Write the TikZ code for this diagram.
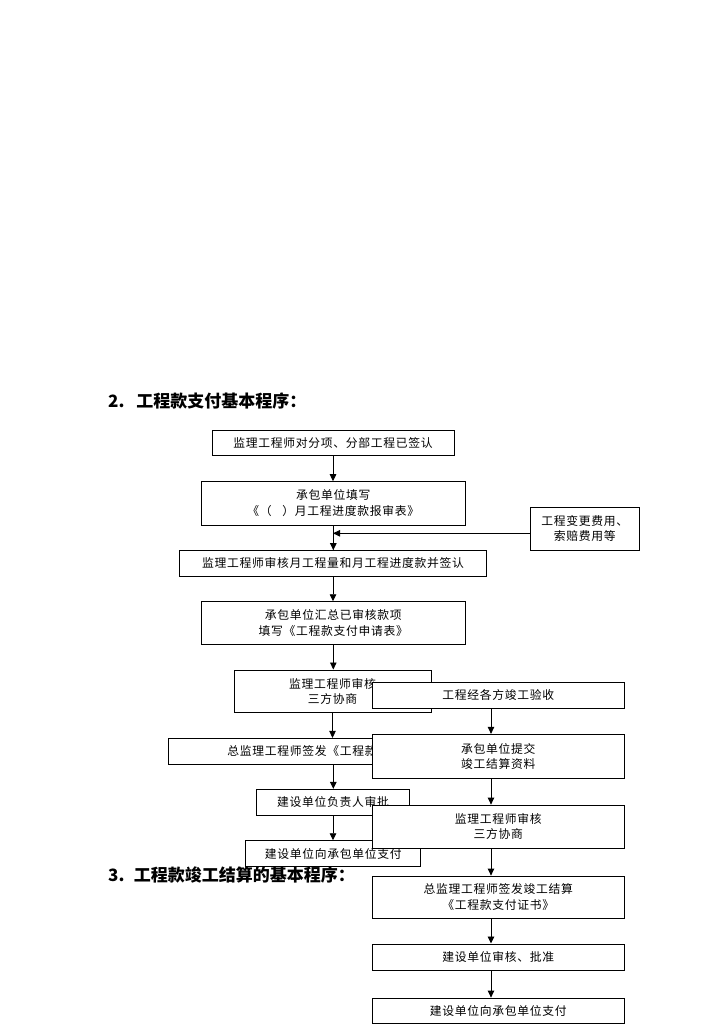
\documentclass[tikz,border=0pt]{standalone}
\usepackage{fontspec}
\usetikzlibrary{arrows.meta,calc}
\newfontfamily\cjk{Noto Sans CJK SC}[LetterSpace=6]
\newfontfamily\cjkt{Noto Sans CJK SC}
\tikzset{
  box/.style={draw=black, line width=0.9pt, fill=white, inner sep=0pt, align=center,
    font=\cjk\fontsize{11.8}{15.5}\selectfont},
  ttl/.style={anchor=west, inner sep=0pt, font=\cjkt\bfseries\fontsize{17}{20}\selectfont},
  arr/.style={line width=0.9pt, -{Triangle[length=7pt,width=6.5pt]}},
}
\begin{document}
\begin{tikzpicture}[x=1pt,y=-1pt]
\useasboundingbox[fill=white] (0,0) rectangle (724,1024);
% titles
\node[ttl] (t2) at (108,401) {2.\hspace{0.7em}工程款支付基本程序：};
% left column
\node[box, minimum width=242pt, minimum height=25pt] (b1) at (333,443.2) {监理工程师对分项、分部工程已签认};
\node[box, minimum width=263.3pt, minimum height=43.3pt] (b2) at (333.3,503.3) {承包单位填写\\《（\hspace{0.9em}）月工程进度款报审表》};
\node[box, minimum width=109.3pt, minimum height=42.7pt] (side) at (584.7,528.7) {工程变更费用、\\索赔费用等};
\node[box, minimum width=307.4pt, minimum height=25.3pt] (b3) at (333,563.3) {监理工程师审核月工程量和月工程进度款并签认};
\node[box, minimum width=263.3pt, minimum height=42.6pt] (b4) at (333.3,623) {承包单位汇总已审核款项\\填写《工程款支付申请表》};
\node[box, minimum width=197pt, minimum height=42.7pt] (b5) at (332.5,691.3) {监理工程师审核\\三方协商};
\node[box, minimum width=330pt, minimum height=25.7pt] (b7) at (333.3,751.2) {总监理工程师签发《工程款支付证书》};
\node[box, minimum width=152.6pt, minimum height=25.7pt] (b9) at (333,802.2) {建设单位负责人审批};
\node[box, minimum width=175pt, minimum height=26pt] (b11) at (333.2,853.7) {建设单位向承包单位支付};
% left arrows
\coordinate (j) at (333,533.3);
\draw[arr] (b1.south) -- (b1.south |- b2.north);
\draw[arr] (b2.south) -- (b2.south |- b3.north);
\draw[arr] (side.west |- j) -- (j);
\draw[arr] (b3.south) -- (b3.south |- b4.north);
\draw[arr] (b4.south) -- (b4.south |- b5.north);
\draw[arr] (b5.south) -- (b5.south |- b7.north);
\draw[arr] (b7.south) -- (b7.south |- b9.north);
\draw[arr] (b9.south) -- (b9.south |- b11.north);
% title 3
\node[ttl] (t3) at (108,875) {3.\hspace{0.55em}工程款竣工结算的基本程序：};
% right column
\node[box, minimum width=252pt, minimum height=26pt] (b6) at (498.3,695.3) {工程经各方竣工验收};
\node[box, minimum width=252pt, minimum height=44pt] (b8) at (498.3,756.3) {承包单位提交\\竣工结算资料};
\node[box, minimum width=252pt, minimum height=43.3pt] (b10) at (498.3,826.7) {监理工程师审核\\三方协商};
\node[box, minimum width=252pt, minimum height=42.3pt] (b12) at (498.3,897.2) {总监理工程师签发竣工结算\\《工程款支付证书》};
\node[box, minimum width=252pt, minimum height=26.7pt] (b13) at (498.3,957.3) {建设单位审核、批准};
\node[box, minimum width=252pt, minimum height=25.5pt] (b14) at (498.3,1010.8) {建设单位向承包单位支付};
% right arrows
\coordinate (rc) at (491,0);
\draw[arr] (b6.south -| rc) -- (b8.north -| rc);
\draw[arr] (b8.south -| rc) -- (b10.north -| rc);
\draw[arr] (b10.south -| rc) -- (b12.north -| rc);
\draw[arr] (b12.south -| rc) -- (b13.north -| rc);
\draw[arr] (b13.south -| rc) -- (b14.north -| rc);
\end{tikzpicture}
\end{document}
